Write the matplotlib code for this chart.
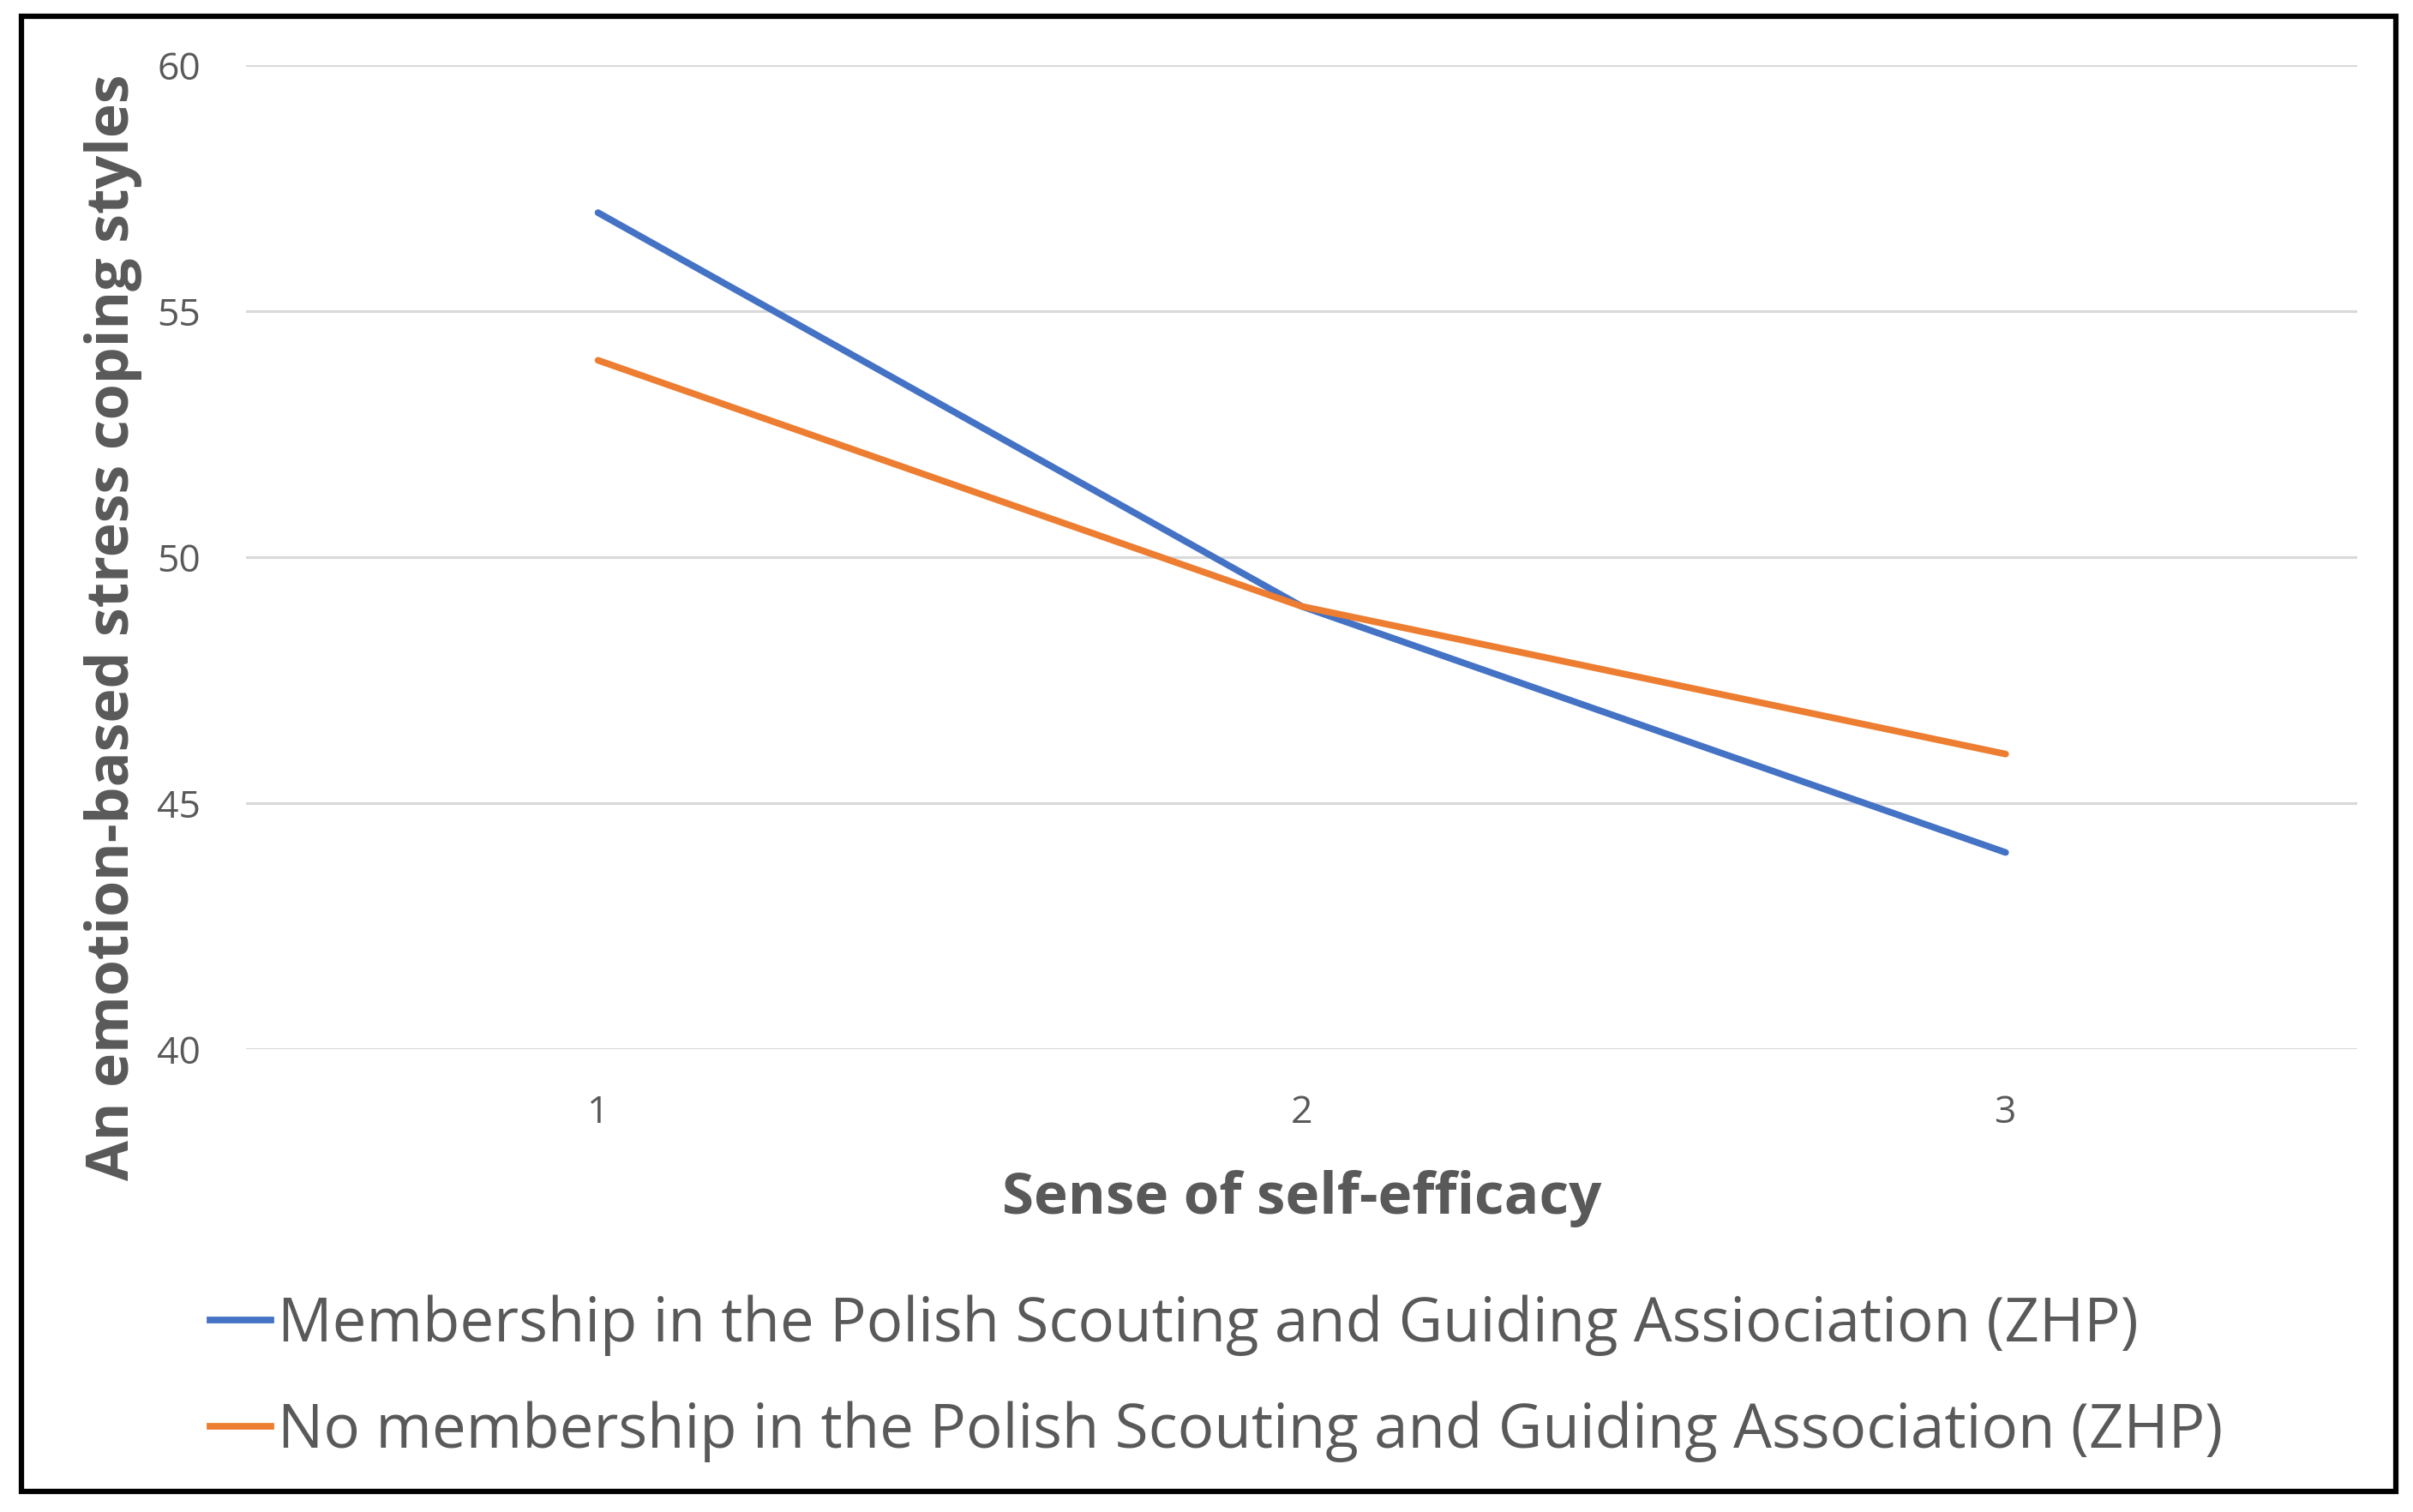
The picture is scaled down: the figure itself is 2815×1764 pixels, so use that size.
import matplotlib
matplotlib.use("Agg")
import matplotlib.pyplot as plt
from matplotlib.patches import Rectangle
from matplotlib.lines import Line2D

plt.rcParams['font.family'] = ['Open Sans', 'DejaVu Sans']

# data
efficacy_levels = [1, 2, 3]
zhp_members = [57, 49, 44]
non_members = [54, 49, 46]
series_names = ["Membership in the Polish Scouting and Guiding Assiociation (ZHP)",
                "No membership in the Polish Scouting and Guiding Association (ZHP)"]
y_ticks = [40, 45, 50, 55, 60]

text_grey = '#595959'
blue = '#4472C4'
orange = '#ED7D31'

fig = plt.figure(figsize=(28.15, 17.64), dpi=100)
ax = fig.add_axes([0.102, 0.306, 0.875, 0.651])

ax.plot(efficacy_levels, zhp_members, color=blue, lw=5.6, solid_capstyle='round')
ax.plot(efficacy_levels, non_members, color=orange, lw=5.6, solid_capstyle='round')

ax.set_xlim(0.5, 3.5)
ax.set_ylim(40, 60)
ax.set_yticks(y_ticks)
ax.set_xticks(efficacy_levels)
ax.grid(axis='y', color='#D9D9D9', lw=2.2)
ax.set_axisbelow(True)
for s in ax.spines.values():
    s.set_visible(False)
ax.tick_params(length=0, labelsize=32, labelcolor=text_grey)
ax.tick_params(axis='y', pad=38)
ax.tick_params(axis='x', pad=38)

ax.set_xlabel("Sense of self-efficacy", fontsize=48.5, fontweight='bold', color=text_grey, labelpad=31)
fig.text(0.047, 0.585, "An emotion-based stress coping styles", rotation=90, ha='center',
         va='center', fontsize=49, fontweight='bold', color=text_grey)

handles = [Line2D([], [], color=blue, lw=5.6), Line2D([], [], color=orange, lw=5.6)]
fig.legend(handles, series_names, loc='upper left', bbox_to_anchor=(0.077, 0.16),
           frameon=False, fontsize=51, labelcolor=text_grey, handlelength=1.0,
           handletextpad=0.12, labelspacing=0.75, borderaxespad=0)

fig.add_artist(Rectangle((0.009, 0.0135), 0.984, 0.9755, transform=fig.transFigure,
                         fill=False, edgecolor='black', lw=4.5))

fig.savefig("out.png", dpi=100)
